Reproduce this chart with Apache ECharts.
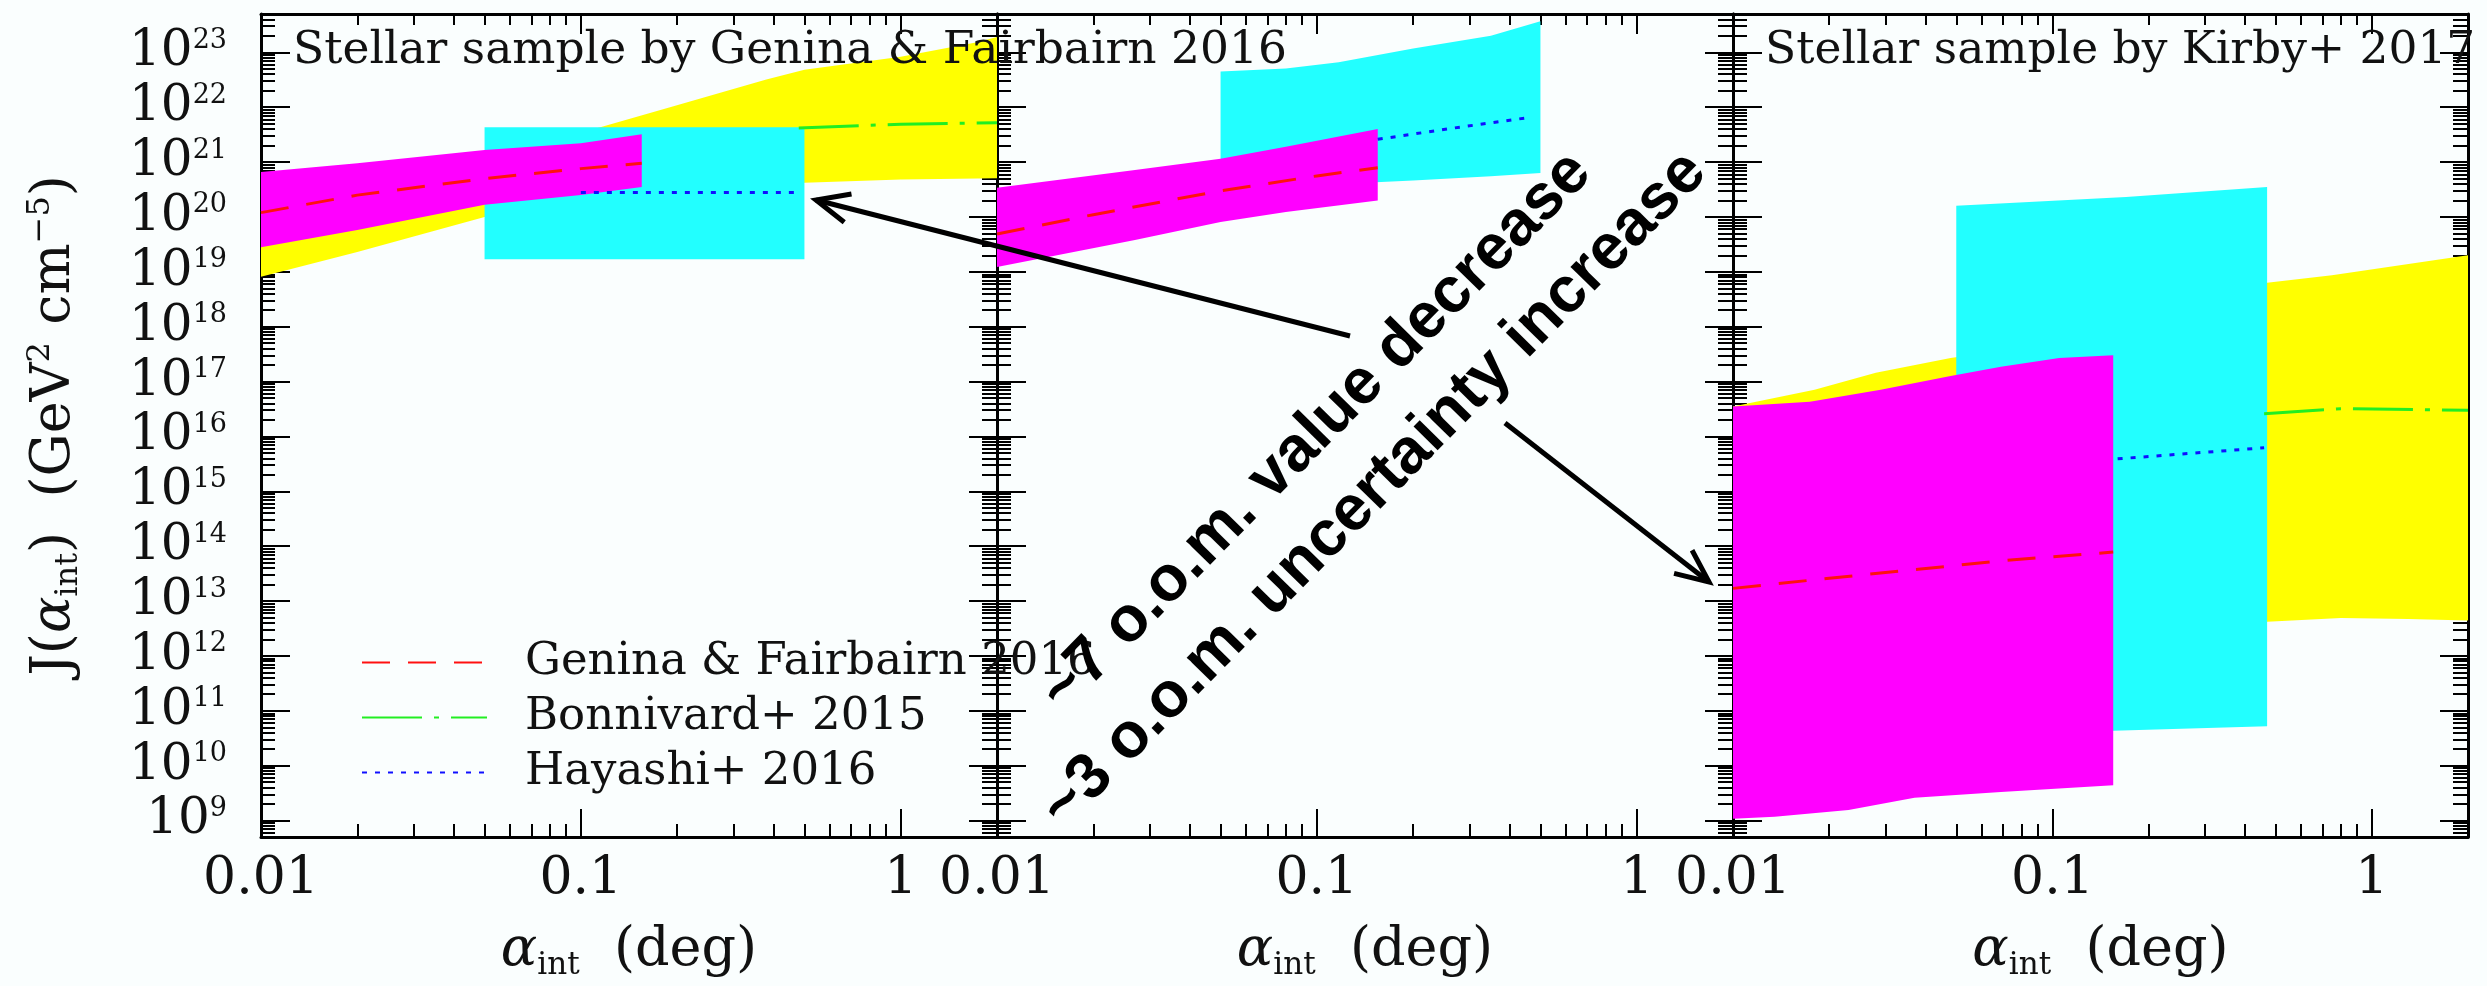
<!DOCTYPE html>
<html><head><meta charset="utf-8">
<script src="https://cdn.jsdelivr.net/npm/echarts@6/dist/echarts.min.js"></script>
<style>html,body{margin:0;padding:0;background:#fafefe;} #chart{width:2487px;height:986px;}</style>
</head><body><div id="chart"></div>
<script>
// ---------- tick values ----------
const xMajorTicks = [0.01, 0.1, 1];
const xMinorTicks = [0.02,0.03,0.04,0.05,0.06,0.07,0.08,0.09,0.2,0.3,0.4,0.5,0.6,0.7,0.8,0.9];
const yMajorTicks = [1e9,1e10,1e11,1e12,1e13,1e14,1e15,1e16,1e17,1e18,1e19,1e20,1e21,1e22,1e23];
const yMantissas = [2,3,4,5,6,7,8,9];
const yDecades = [8,9,10,11,12,13,14,15,16,17,18,19,20,21,22,23];
const xRange = [0.01, 2];
const yRange = [5e8, 5e23];

// ---------- texts ----------
const seriesNames = ['Genina & Fairbairn 2016', 'Bonnivard+ 2015', 'Hayashi+ 2016'];
const panelTitles = ['Stellar sample by Genina & Fairbairn 2016', 'Stellar sample by Kirby+ 2017'];
const noteTexts = ['~7 o.o.m. value decrease', '~3 o.o.m. uncertainty increase'];

// ---------- Panel 1 (Genina & Fairbairn sample) ----------
const p1_gfUpX = [0.01, 0.02, 0.05, 0.1, 0.155];
const p1_gfUp  = [6.6e20, 9.5e20, 1.66e21, 2.2e21, 3.2e21];
const p1_gfLoX = [0.01, 0.02, 0.05, 0.1, 0.155];
const p1_gfLo  = [2.8e19, 5.8e19, 1.66e20, 2.5e20, 3.5e20];
const p1_gfMidX = [0.01, 0.02, 0.05, 0.1, 0.155];
const p1_gfMid  = [1.2e20, 2.5e20, 5.0e20, 7.6e20, 9.5e20];
const p1_bonnUpX = [0.01, 0.02, 0.05, 0.115, 0.19, 0.38, 0.5, 1, 1.7, 2];
const p1_bonnUp  = [4e20, 6.3e20, 1.1e21, 4.3e21, 1.0e22, 3.2e22, 4.8e22, 8.3e22, 1.5e23, 1.9e23];
const p1_bonnLoX = [0.01, 0.02, 0.05, 0.1, 0.2, 0.5, 1, 2];
const p1_bonnLo  = [8.1e18, 2.3e19, 1.0e20, 1.8e20, 2.8e20, 4.2e20, 4.8e20, 5.1e20];
const p1_bonnMidX = [0.48, 1, 2];
const p1_bonnMid  = [4.2e21, 4.9e21, 5.2e21];
const p1_hayUpX = [0.05, 0.5];
const p1_hayUp  = [4.3e21, 4.3e21];
const p1_hayLoX = [0.05, 0.5];
const p1_hayLo  = [1.7e19, 1.7e19];
const p1_hayMidX = [0.1, 0.48];
const p1_hayMid  = [2.8e20, 2.8e20];

// ---------- Panel 2 ----------
const p2_gfUpX = [0.01, 0.027, 0.05, 0.08, 0.155];
const p2_gfUp  = [3.4e20, 7.2e20, 1.15e21, 1.9e21, 4.0e21];
const p2_gfLoX = [0.01, 0.027, 0.05, 0.08, 0.155];
const p2_gfLo  = [1.23e19, 3.8e19, 8.1e19, 1.23e20, 2.0e20];
const p2_gfMidX = [0.01, 0.02, 0.05, 0.1, 0.155];
const p2_gfMid  = [4.9e19, 1.1e20, 3.0e20, 5.6e20, 7.9e20];
const p2_hayUpX = [0.05, 0.08, 0.117, 0.2, 0.35, 0.5];
const p2_hayUp  = [4.5e22, 5.1e22, 6.6e22, 1.17e23, 2.0e23, 3.7e23];
const p2_hayLoX = [0.05, 0.08, 0.117, 0.2, 0.35, 0.5];
const p2_hayLo  = [3.2e20, 3.6e20, 4.0e20, 4.6e20, 5.5e20, 6.3e20];
const p2_hayMidX = [0.155, 0.27, 0.47];
const p2_hayMid  = [2.6e21, 4.2e21, 6.6e21];

// ---------- Panel 3 (Kirby sample) ----------
const p3_gfUpX = [0.01, 0.0174, 0.029, 0.048, 0.069, 0.105, 0.155];
const p3_gfUp  = [3.5e16, 4.3e16, 7.1e16, 1.26e17, 1.86e17, 2.7e17, 3.0e17];
const p3_gfLoX = [0.01, 0.0135, 0.023, 0.037, 0.069, 0.155];
const p3_gfLo  = [1.07e9, 1.17e9, 1.55e9, 2.6e9, 3.3e9, 4.4e9];
const p3_gfMidX = [0.01, 0.02, 0.038, 0.074, 0.155];
const p3_gfMid  = [1.7e13, 2.6e13, 3.8e13, 5.6e13, 7.8e13];
const p3_hayUpX = [0.05, 0.17, 0.47];
const p3_hayUp  = [1.6e20, 2.3e20, 3.5e20];
const p3_hayLoX = [0.05, 0.155, 0.47];
const p3_hayLo  = [3.2e10, 4.3e10, 5.2e10];
const p3_hayMidX = [0.16, 0.46];
const p3_hayMid  = [3.9e15, 6.2e15];
const p3_bonnUpX = [0.01, 0.018, 0.028, 0.048, 0.1, 0.47, 0.75, 2];
const p3_bonnUp  = [3.5e16, 7.1e16, 1.45e17, 2.7e17, 5e17, 6.3e18, 8.7e18, 2.0e19];
const p3_bonnLoX = [0.01, 0.1, 0.47, 0.8, 1.3, 2];
const p3_bonnLo  = [1.5e12, 3e12, 4.2e12, 4.9e12, 4.7e12, 4.4e12];
const p3_bonnMidX = [0.46, 0.8, 2];
const p3_bonnMid  = [2.6e16, 3.2e16, 3.0e16];

// ---------- build ----------
const yMinorTicks = [];
yDecades.forEach(d => yMantissas.forEach(m => { const v = m * Math.pow(10, d); if (v > yRange[0] && v < yRange[1]) yMinorTicks.push(v); }));

const C = {gf:'#ff00ff', bonn:'#ffff00', hay:'#22ffff', gfLine:'#ff1010', bonnLine:'#22ee22', hayLine:'#1010ff'};
const SERIF = 'DejaVu Serif';
const INK = '#111';

function pts(xs, ys){ return xs.map((x,i)=>[x, ys[i]]); }
function band(g, upX, up, loX, lo, color, name){
  const data = pts(upX, up).concat(pts(loX, lo).reverse());
  return {type:'custom', name: name + ' band', xAxisIndex:g*4, yAxisIndex:g*4, clip:true, silent:true, z:2,
    data: data, encode:{x:0, y:1},
    renderItem: function(params, api){
      if (params.dataIndexInside !== 0) return;
      const p = [];
      for (let i = 0; i < data.length; i++) p.push(api.coord([api.value(0,i), api.value(1,i)]));
      return {type:'polygon', shape:{points:p}, style:{fill:color}};
    }};
}
function line(g, xs, ys, color, type, name){
  return {type:'line', name:name, xAxisIndex:g*4, yAxisIndex:g*4, data:pts(xs,ys), symbol:'none', showSymbol:false,
    clip:true, silent:true, z:2, lineStyle:{color:color, width:3, type:type}, itemStyle:{color:color}};
}
const redDash = [28, 18], greenDashDot = [60, 12, 5, 12], blueDot = [5, 8];

const series = [];
function panel(g, d){
  if (d.bonnUpX){
    series.push(band(g, d.bonnUpX, d.bonnUp, d.bonnLoX, d.bonnLo, C.bonn, seriesNames[1]));
    series.push(line(g, d.bonnMidX, d.bonnMid, C.bonnLine, greenDashDot, seriesNames[1]));
  }
  series.push(band(g, d.hayUpX, d.hayUp, d.hayLoX, d.hayLo, C.hay, seriesNames[2]));
  series.push(line(g, d.hayMidX, d.hayMid, C.hayLine, blueDot, seriesNames[2]));
  series.push(band(g, d.gfUpX, d.gfUp, d.gfLoX, d.gfLo, C.gf, seriesNames[0]));
  series.push(line(g, d.gfMidX, d.gfMid, C.gfLine, redDash, seriesNames[0]));
}
panel(0, {gfUpX:p1_gfUpX, gfUp:p1_gfUp, gfLoX:p1_gfLoX, gfLo:p1_gfLo, gfMidX:p1_gfMidX, gfMid:p1_gfMid,
  bonnUpX:p1_bonnUpX, bonnUp:p1_bonnUp, bonnLoX:p1_bonnLoX, bonnLo:p1_bonnLo, bonnMidX:p1_bonnMidX, bonnMid:p1_bonnMid,
  hayUpX:p1_hayUpX, hayUp:p1_hayUp, hayLoX:p1_hayLoX, hayLo:p1_hayLo, hayMidX:p1_hayMidX, hayMid:p1_hayMid});
panel(1, {gfUpX:p2_gfUpX, gfUp:p2_gfUp, gfLoX:p2_gfLoX, gfLo:p2_gfLo, gfMidX:p2_gfMidX, gfMid:p2_gfMid,
  hayUpX:p2_hayUpX, hayUp:p2_hayUp, hayLoX:p2_hayLoX, hayLo:p2_hayLo, hayMidX:p2_hayMidX, hayMid:p2_hayMid});
panel(2, {gfUpX:p3_gfUpX, gfUp:p3_gfUp, gfLoX:p3_gfLoX, gfLo:p3_gfLo, gfMidX:p3_gfMidX, gfMid:p3_gfMid,
  bonnUpX:p3_bonnUpX, bonnUp:p3_bonnUp, bonnLoX:p3_bonnLoX, bonnLo:p3_bonnLo, bonnMidX:p3_bonnMidX, bonnMid:p3_bonnMid,
  hayUpX:p3_hayUpX, hayUp:p3_hayUp, hayLoX:p3_hayLoX, hayLo:p3_hayLo, hayMidX:p3_hayMidX, hayMid:p3_hayMid});

const gridLefts = [261, 997, 1733], gridWidths = [736, 736, 735];
const grids = [], xAxes = [], yAxes = [];
const lineStyle = {color:'#000', width:3};
const tickLine = {color:'#000', width:2};
const xNameRich = {
  a:{fontFamily:SERIF, fontStyle:'italic', fontSize:54, lineHeight:60, color:INK},
  s:{fontFamily:SERIF, fontSize:31, lineHeight:34, verticalAlign:'bottom', color:INK},
  n:{fontFamily:SERIF, fontSize:54, lineHeight:60, color:INK}
};
for (let g = 0; g < 3; g++){
  grids.push({left:gridLefts[g], top:14, width:gridWidths[g], height:823, containLabel:false, outerBoundsMode:'none'});
  const xBase = {type:'log', gridIndex:g, min:xRange[0], max:xRange[1], splitLine:{show:false}, axisPointer:{show:false}};
  xAxes.push(Object.assign({}, xBase, {position:'bottom',
    axisLine:{show:true, onZero:false, lineStyle:lineStyle},
    axisTick:{show:true, inside:true, length:28, customValues:xMajorTicks, lineStyle:tickLine},
    axisLabel:{show:true, customValues:xMajorTicks, margin:16, fontSize:52, fontFamily:SERIF, color:INK,
      formatter: v => String(+(+v).toPrecision(2))},
    name:'{a|α}{s|int}{n|  (deg)}', nameLocation:'middle', nameGap:84, nameTextStyle:{rich:xNameRich}}));
  xAxes.push(Object.assign({}, xBase, {position:'bottom', axisLine:{show:false, onZero:false},
    axisTick:{show:true, inside:true, length:13, customValues:xMinorTicks, lineStyle:tickLine}, axisLabel:{show:false}}));
  xAxes.push(Object.assign({}, xBase, {position:'top', axisLine:{show:true, onZero:false, lineStyle:lineStyle},
    axisTick:{show:true, inside:true, length:20, customValues:xMajorTicks, lineStyle:tickLine}, axisLabel:{show:false}}));
  xAxes.push(Object.assign({}, xBase, {position:'top', axisLine:{show:false, onZero:false},
    axisTick:{show:true, inside:true, length:11, customValues:xMinorTicks, lineStyle:tickLine}, axisLabel:{show:false}}));

  const yBase = {type:'log', gridIndex:g, min:yRange[0], max:yRange[1], splitLine:{show:false}, axisPointer:{show:false}};
  const leftMajor = Object.assign({}, yBase, {position:'left', axisLine:{show:true, onZero:false, lineStyle:lineStyle},
    axisTick:{show:true, inside:true, length:29, customValues:yMajorTicks, lineStyle:tickLine},
    axisLabel:{show: g === 0, customValues:yMajorTicks, margin:34, color:INK,
      formatter: v => '{b|10}{s|' + Math.round(Math.log10(v)) + '}',
      rich:{ b:{fontFamily:SERIF, fontSize:50, lineHeight:50, color:INK},
             s:{fontFamily:SERIF, fontSize:27, lineHeight:30, verticalAlign:'top', color:INK} }}});
  if (g === 0){
    leftMajor.name = '{n|J(}{a|α}{s|int}{n|)  (GeV}{p|2}{n| cm}{p|−5}{n|)}';
    leftMajor.nameLocation = 'middle';
    leftMajor.nameGap = 176;
    leftMajor.nameRotate = 90;
    leftMajor.nameTextStyle = {rich:{
      n:{fontFamily:SERIF, fontSize:54, lineHeight:60, color:INK},
      a:{fontFamily:SERIF, fontStyle:'italic', fontSize:54, lineHeight:60, color:INK},
      s:{fontFamily:SERIF, fontSize:32, lineHeight:32, verticalAlign:'bottom', color:INK},
      p:{fontFamily:SERIF, fontSize:32, lineHeight:32, verticalAlign:'top', color:INK}}};
  }
  yAxes.push(leftMajor);
  yAxes.push(Object.assign({}, yBase, {position:'left', axisLine:{show:false, onZero:false},
    axisTick:{show:true, inside:true, length:14, customValues:yMinorTicks, lineStyle:tickLine}, axisLabel:{show:false}}));
  yAxes.push(Object.assign({}, yBase, {position:'right', axisLine:{show:true, onZero:false, lineStyle:lineStyle},
    axisTick:{show:true, inside:true, length:28, customValues:yMajorTicks, lineStyle:tickLine}, axisLabel:{show:false}}));
  yAxes.push(Object.assign({}, yBase, {position:'right', axisLine:{show:false, onZero:false},
    axisTick:{show:true, inside:true, length:15, customValues:yMinorTicks, lineStyle:tickLine}, axisLabel:{show:false}}));
}

function arrow(x1, y1, x2, y2){
  const L = 36, a = 24 * Math.PI / 180;
  const ang = Math.atan2(y1 - y2, x1 - x2);
  const head = [[x2 + L*Math.cos(ang + a), y2 + L*Math.sin(ang + a)], [x2, y2], [x2 + L*Math.cos(ang - a), y2 + L*Math.sin(ang - a)]];
  return [
    {type:'line', z:100, shape:{x1:x1, y1:y1, x2:x2, y2:y2}, style:{stroke:'#000', lineWidth:5}},
    {type:'polyline', z:100, shape:{points:head}, style:{stroke:'#000', lineWidth:5, fill:null, lineJoin:'miter'}}
  ];
}
const rot = 45.5 * Math.PI / 180;
const NOTE_FONT = {fontFamily:'Liberation Sans, Arial, Helvetica, sans-serif', fontWeight:'bold', fontSize:64, fill:'#000', align:'center', verticalAlign:'middle'};
const graphics = [
  {type:'text', z:100, x:293, y:51, style:{text:panelTitles[0], fontFamily:SERIF, fontSize:45.5, fill:INK, align:'left', verticalAlign:'middle'}},
  {type:'text', z:100, x:1765, y:51, style:{text:panelTitles[1], fontFamily:SERIF, fontSize:45.5, fill:INK, align:'left', verticalAlign:'middle'}},
  {type:'text', z:100, x:1316, y:432, rotation:rot, style:Object.assign({text:noteTexts[0]}, NOTE_FONT)},
  {type:'text', z:100, x:1374, y:490, rotation:rot, style:Object.assign({text:noteTexts[1]}, NOTE_FONT)}
].concat(arrow(1350, 336, 816, 200)).concat(arrow(1505, 423, 1709, 582));

const chart = echarts.init(document.getElementById('chart'), null, {renderer:'canvas'});
chart.setOption({
  animation:false,
  backgroundColor:'#fafefe',
  textStyle:{fontFamily:SERIF},
  grid:grids, xAxis:xAxes, yAxis:yAxes, series:series,
  legend:{data:seriesNames, orient:'vertical', left:356, top:635, itemWidth:125, itemHeight:14, itemGap:10,
    selectedMode:false,
    itemStyle:{color:'rgba(0,0,0,0)', borderColor:'rgba(0,0,0,0)', borderWidth:0},
    textStyle:{fontFamily:SERIF, fontSize:45, color:INK, lineHeight:44, padding:[0,0,0,33]}},
  graphic:graphics
});
</script></body></html>
